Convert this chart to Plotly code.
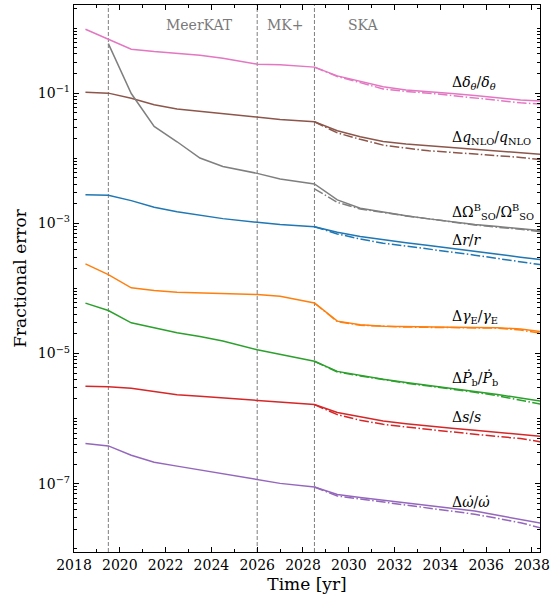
import plotly.graph_objects as go

# ---------------- data ----------------
years = [2018.5, 2019.5, 2020.5, 2021.5, 2022.5, 2023.5, 2024.5, 2026.0, 2027.0, 2028.5,
         2029.5, 2030.5, 2031.5, 2032.5, 2033.5, 2034.5, 2035.5, 2036.5, 2037.5, 2038.5]
years_ska = [2028.5, 2029.5, 2030.5, 2031.5, 2032.5, 2033.5, 2034.5, 2035.5, 2036.5, 2037.5, 2038.5]

delta_theta = [0.959, 0.673, 0.473, 0.435, 0.410, 0.383, 0.344, 0.279, 0.272, 0.251,
               0.184, 0.151, 0.125, 0.112, 0.106, 0.0986, 0.0918, 0.0838, 0.0782, 0.0750]
delta_theta_alt = [0.251, 0.180, 0.145, 0.116, 0.106, 0.100, 0.0918, 0.0851, 0.0776, 0.0710, 0.0673]

q_nlo = [0.1035, 0.100, 0.0832, 0.0661, 0.0569, 0.0522, 0.0479, 0.0423, 0.0394, 0.0363,
         0.0264, 0.0214, 0.0181, 0.0166, 0.01556, 0.01462, 0.01384, 0.01303, 0.01227, 0.01135]
q_nlo_alt = [0.0363, 0.0245, 0.0195, 0.0159, 0.0143, 0.0130, 0.0123, 0.0116, 0.0110, 0.0103, 0.00944]

omega_so = [None, 0.575, 0.0986, 0.0308, 0.0179, 0.01007, 0.00748, 0.00585, 0.00479, 0.00402,
            0.00229, 0.00170, 0.00148, 0.00131, 0.00117, 0.00106, 0.000955, 0.00089, 0.000838, 0.000767]
omega_so_alt = [0.00339, 0.00210, 0.00166, 0.00146, 0.00130, 0.00117, 0.00105, 0.000944, 0.00087, 0.000813, 0.000733]

r_shapiro = [0.00275, 0.00269, 0.00223, 0.00176, 0.00151, 0.00135, 0.00118, 0.001035, 0.000955, 0.000887,
             0.000728, 0.000625, 0.000556, 0.000501, 0.000455, 0.000409, 0.000368, 0.000333, 0.000302, 0.000275]
r_shapiro_alt = [0.000887, 0.000687, 0.000575, 0.000494, 0.000447, 0.000405, 0.000363, 0.000324, 0.000288, 0.000257, 0.000228]

gamma_e = [2.38e-4, 1.63e-4, 1.02e-4, 9.29e-5, 8.75e-5, 8.55e-5, 8.36e-5, 8.05e-5, 7.59e-5, 5.96e-5,
           3.14e-5, 2.77e-5, 2.63e-5, 2.57e-5, 2.54e-5, 2.52e-5, 2.51e-5, 2.49e-5, 2.37e-5, 2.14e-5]
gamma_e_alt = [5.96e-5, 3.09e-5, 2.72e-5, 2.60e-5, 2.55e-5, 2.52e-5, 2.51e-5, 2.49e-5, 2.45e-5, 2.29e-5, 2.02e-5]

pb_dot = [5.93e-5, 4.58e-5, 2.96e-5, 2.49e-5, 2.08e-5, 1.83e-5, 1.55e-5, 1.14e-5, 9.6e-6, 7.59e-6,
          5.31e-6, 4.61e-6, 4.01e-6, 3.59e-6, 3.24e-6, 2.93e-6, 2.65e-6, 2.34e-6, 2.07e-6, 1.82e-6]
pb_dot_alt = [7.59e-6, 5.19e-6, 4.52e-6, 3.94e-6, 3.51e-6, 3.16e-6, 2.85e-6, 2.54e-6, 2.24e-6, 1.93e-6, 1.64e-6]

s_shapiro = [3.13e-6, 3.09e-6, 2.92e-6, 2.62e-6, 2.33e-6, 2.20e-6, 2.07e-6, 1.86e-6, 1.78e-6, 1.64e-6,
             1.24e-6, 1.06e-6, 9.18e-7, 8.32e-7, 7.62e-7, 7.08e-7, 6.61e-7, 6.12e-7, 5.69e-7, 5.31e-7]
s_shapiro_alt = [1.64e-6, 1.15e-6, 9.42e-7, 8.18e-7, 7.41e-7, 6.76e-7, 6.24e-7, 5.75e-7, 5.31e-7, 4.93e-7, 4.32e-7]

omega_dot = [4.14e-7, 3.80e-7, 2.74e-7, 2.14e-7, 1.86e-7, 1.63e-7, 1.43e-7, 1.16e-7, 1.01e-7, 8.87e-8,
             6.82e-8, 6.14e-8, 5.58e-8, 5.13e-8, 4.68e-8, 4.22e-8, 3.80e-8, 3.27e-8, 2.82e-8, 2.43e-8]
omega_dot_alt = [8.87e-8, 6.46e-8, 5.82e-8, 5.25e-8, 4.73e-8, 4.27e-8, 3.80e-8, 3.39e-8, 2.92e-8, 2.51e-8, 2.04e-8]

era_lines = [2019.5, 2026.0, 2028.5]
era_names = ["MeerKAT", "MK+", "SKA"]
era_label_x = [2023.5, 2027.25, 2030.6]

x_tickvals = [2018, 2020, 2022, 2024, 2026, 2028, 2030, 2032, 2034, 2036, 2038]
y_tickvals = [1e-1, 1e-3, 1e-5, 1e-7]
y_ticktext = ["10<sup>−1</sup>", "10<sup>−3</sup>", "10<sup>−5</sup>", "10<sup>−7</sup>"]

series = [
    ("pink", "#e377c2", delta_theta, delta_theta_alt,
     "Δ<i>δ</i><sub><i>θ</i></sub>/<i>δ</i><sub><i>θ</i></sub>", -0.842),
    ("brown", "#8c564b", q_nlo, q_nlo_alt,
     "Δ<i>q</i><sub>NLO</sub>/<i>q</i><sub>NLO</sub>", -1.696),
    ("gray", "#7f7f7f", omega_so, omega_so_alt,
     "ΔΩ<sup>B</sup><sub>SO</sub>/Ω<sup>B</sup><sub>SO</sub>", -2.831),
    ("blue", "#1f77b4", r_shapiro, r_shapiro_alt,
     "Δ<i>r</i>/<i>r</i>", -3.25),
    ("orange", "#ff7f0e", gamma_e, gamma_e_alt,
     "Δ<i>γ</i><sub>E</sub>/<i>γ</i><sub>E</sub>", -4.442),
    ("green", "#2ca02c", pb_dot, pb_dot_alt,
     "Δ<i>Ṗ</i><sub>b</sub>/<i>Ṗ</i><sub>b</sub>", -5.382),
    ("red", "#d62728", s_shapiro, s_shapiro_alt,
     "Δ<i>s</i>/<i>s</i>", -5.975),
    ("purple", "#9467bd", omega_dot, omega_dot_alt,
     "Δ<i>ω̇</i>/<i>ω̇</i>", -7.279),
]

FONT = "DejaVu Serif"

fig = go.Figure()

for name, color, solid, alt, label, ly in series:
    fig.add_trace(go.Scatter(x=years, y=solid, mode="lines", line=dict(color=color, width=1.5),
                             showlegend=False, connectgaps=False))
    fig.add_trace(go.Scatter(x=years_ska, y=alt, mode="lines",
                             line=dict(color=color, width=1.5, dash="9.6px,2.4px,1.5px,2.4px"),
                             showlegend=False))

shapes = []
for xv in era_lines:
    shapes.append(dict(type="line", xref="x", yref="paper", x0=xv, x1=xv, y0=0, y1=1,
                       line=dict(color="#7f7f7f", width=1, dash="4px,2px"), layer="below"))

annotations = []
for name, color, solid, alt, label, ly in series:
    annotations.append(dict(x=2034.4, y=ly, xref="x", yref="y", text=label, showarrow=False,
                            xanchor="left", yanchor="middle",
                            font=dict(family=FONT, size=14, color="black")))
for nm, xv in zip(era_names, era_label_x):
    annotations.append(dict(x=xv, y=0.9635, xref="x", yref="paper", text=nm, showarrow=False,
                            xanchor="center", yanchor="middle",
                            font=dict(family=FONT, size=14, color="#7a7a7a")))

minor_y = [k * 10.0 ** n for n in range(-9, 1) for k in range(1, 10)]

fig.update_layout(
    width=554, height=601,
    margin=dict(l=74, r=11, t=4, b=49),
    paper_bgcolor="white", plot_bgcolor="white",
    font=dict(family=FONT, size=14, color="black"),
    shapes=shapes, annotations=annotations,
    xaxis=dict(range=[2018, 2038.35], tickvals=x_tickvals, ticks="inside", ticklen=5,
               tickwidth=1, tickcolor="black", showline=True, linecolor="black", linewidth=1.2,
               mirror="ticks", showgrid=False, zeroline=False,
               tickfont=dict(family=FONT, size=14),
               minor=dict(dtick=1, tick0=2018, ticks="inside", ticklen=3, tickcolor="black", showgrid=False),
               title=dict(text="Time [yr]", font=dict(family=FONT, size=17), standoff=6)),
    yaxis=dict(type="log", range=[-8.05, 0.354], tickvals=y_tickvals, ticktext=y_ticktext,
               ticks="inside", ticklen=5, tickwidth=1, tickcolor="black",
               showline=True, linecolor="black", linewidth=1.2, mirror="ticks",
               showgrid=False, zeroline=False, tickfont=dict(family=FONT, size=14),
               minor=dict(tickvals=minor_y, ticks="inside", ticklen=3, tickcolor="black", showgrid=False),
               title=dict(text="Fractional error", font=dict(family=FONT, size=17), standoff=6)),
)

fig.write_html("out.html")
